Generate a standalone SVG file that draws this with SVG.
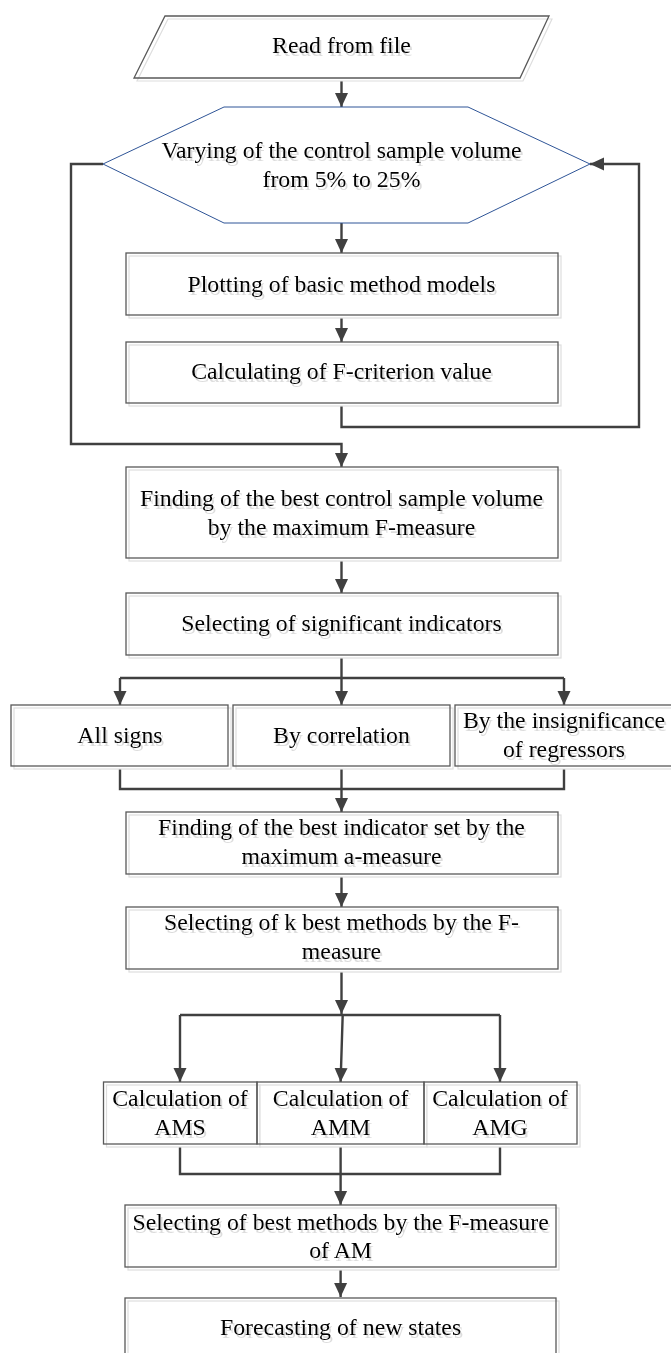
<svg xmlns="http://www.w3.org/2000/svg" width="671" height="1353" viewBox="0 0 671 1353">
<defs>
<marker id="arr" markerUnits="userSpaceOnUse" markerWidth="14" markerHeight="14" refX="14" refY="7" orient="auto">
<path d="M0,0.5 L14,7 L0,13.5 z" fill="#404040"/>
</marker>
<filter id="ts" x="-10%" y="-30%" width="120%" height="170%">
<feDropShadow dx="2" dy="3" stdDeviation="0.4" flood-color="#9a9a9a" flood-opacity="0.35"/>
</filter>
</defs>
<style>
.sh{fill:#ffffff;stroke:#dedede;stroke-width:1.2}
.bx{fill:none;stroke:#595959;stroke-width:1.3}
.hx{fill:#ffffff;stroke:#2f5597;stroke-width:1}
.t{font-family:"Liberation Serif","Times New Roman",serif;font-size:23.8px;fill:#000;text-anchor:middle;filter:url(#ts)}
.c{fill:none;stroke:#404040;stroke-width:2.4}
.ca{fill:none;stroke:#404040;stroke-width:2.4;marker-end:url(#arr)}
</style>
<rect width="671" height="1353" fill="#ffffff"/>

<g id="connectors">
<path class="ca" d="M341.5,78 V107"/>
<path class="ca" d="M341.5,223 V253"/>
<path class="ca" d="M341.5,315 V342"/>
<path class="ca" d="M103,164 H71 V444 H341.5 V467"/>
<path class="ca" d="M341.5,403 V427 H639 V164 H590"/>
<path class="ca" d="M341.5,558 V593"/>
<path class="c" d="M341.5,655 V678"/>
<path class="c" d="M120,678 H564"/>
<path class="ca" d="M120,678 V705"/>
<path class="ca" d="M341.5,678 V705"/>
<path class="ca" d="M564,678 V705"/>
<path class="c" d="M120,766 V789 H564 V766"/>
<path class="ca" d="M341.5,766 V812"/>
<path class="ca" d="M341.5,874 V907"/>
<path class="ca" d="M341.5,969 V1014"/>
<path class="c" d="M180,1015 H500"/>
<path class="ca" d="M180,1015 V1082"/>
<path class="ca" d="M342.7,1015 L340.6,1082"/>
<path class="ca" d="M500,1015 V1082"/>
<path class="c" d="M180,1144 V1174 H500 V1144"/>
<path class="ca" d="M340.6,1144 V1205"/>
<path class="ca" d="M340.6,1267 V1297"/>
</g>

<g id="read">
<polygon class="sh" points="168,19 552,19 523,81 137,81"/>
<polygon class="bx" points="165,16 549,16 520,78 134,78"/>
<text class="t" x="341.5" y="53">Read from file</text>
</g>

<g id="vary">
<polygon class="hx" points="103,164 224,107 468,107 590,164 468,223 224,223"/>
<text class="t" x="341.5" y="158">Varying of the control sample volume</text>
<text class="t" x="341.5" y="187">from 5% to 25%</text>
</g>

<g id="plot">
<rect class="sh" x="129" y="256" width="432" height="62"/>
<rect class="bx" x="126" y="253" width="432" height="62"/>
<text class="t" x="341.5" y="292">Plotting of basic method models</text>
</g>

<g id="calcF">
<rect class="sh" x="129" y="345" width="432" height="61"/>
<rect class="bx" x="126" y="342" width="432" height="61"/>
<text class="t" x="341.5" y="379">Calculating of F-criterion value</text>
</g>

<g id="bestvol">
<rect class="sh" x="129" y="470" width="432" height="91"/>
<rect class="bx" x="126" y="467" width="432" height="91"/>
<text class="t" x="341.5" y="506">Finding of the best control sample volume</text>
<text class="t" x="341.5" y="535">by the maximum F-measure</text>
</g>

<g id="selind">
<rect class="sh" x="129" y="596" width="432" height="62"/>
<rect class="bx" x="126" y="593" width="432" height="62"/>
<text class="t" x="341.5" y="631">Selecting of significant indicators</text>
</g>

<g id="allsigns">
<rect class="sh" x="14" y="708" width="217" height="61"/>
<rect class="bx" x="11" y="705" width="217" height="61"/>
<text class="t" x="120" y="743">All signs</text>
</g>

<g id="bycorr">
<rect class="sh" x="236" y="708" width="217" height="61"/>
<rect class="bx" x="233" y="705" width="217" height="61"/>
<text class="t" x="341.5" y="743">By correlation</text>
</g>

<g id="byinsig">
<rect class="sh" x="458" y="708" width="217" height="61"/>
<rect class="bx" x="455" y="705" width="217" height="61"/>
<text class="t" x="564" y="728">By the insignificance</text>
<text class="t" x="564" y="757">of regressors</text>
</g>

<g id="bestset">
<rect class="sh" x="129" y="815" width="432" height="62"/>
<rect class="bx" x="126" y="812" width="432" height="62"/>
<text class="t" x="341.5" y="835">Finding of the best indicator set by the</text>
<text class="t" x="341.5" y="864">maximum a-measure</text>
</g>

<g id="kbest">
<rect class="sh" x="129" y="910" width="432" height="62"/>
<rect class="bx" x="126" y="907" width="432" height="62"/>
<text class="t" x="341.5" y="930">Selecting of k best methods by the F-</text>
<text class="t" x="341.5" y="959">measure</text>
</g>

<g id="ams">
<rect class="sh" x="106.5" y="1085" width="153.5" height="62"/>
<rect class="bx" x="103.5" y="1082" width="153.5" height="62"/>
<text class="t" x="180" y="1106">Calculation of</text>
<text class="t" x="180" y="1135">AMS</text>
</g>

<g id="amm">
<rect class="sh" x="260" y="1085" width="167" height="62"/>
<rect class="bx" x="257" y="1082" width="167" height="62"/>
<text class="t" x="340.6" y="1106">Calculation of</text>
<text class="t" x="340.6" y="1135">AMM</text>
</g>

<g id="amg">
<rect class="sh" x="427" y="1085" width="153" height="62"/>
<rect class="bx" x="424" y="1082" width="153" height="62"/>
<text class="t" x="500" y="1106">Calculation of</text>
<text class="t" x="500" y="1135">AMG</text>
</g>

<g id="bestam">
<rect class="sh" x="128" y="1208" width="431" height="62"/>
<rect class="bx" x="125" y="1205" width="431" height="62"/>
<text class="t" x="340.6" y="1230">Selecting of best methods by the F-measure</text>
<text class="t" x="340.6" y="1258">of AM</text>
</g>

<g id="forecast">
<rect class="sh" x="128" y="1301" width="431" height="70"/>
<rect class="bx" x="125" y="1298" width="431" height="70"/>
<text class="t" x="340.6" y="1335">Forecasting of new states</text>
</g>
</svg>
